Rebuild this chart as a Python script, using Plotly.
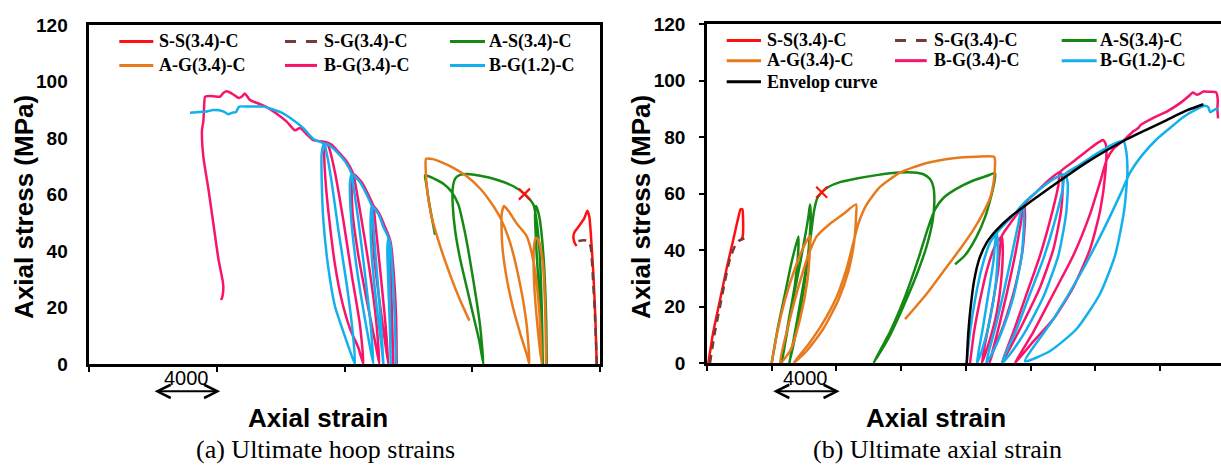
import plotly.graph_objects as go

# ---------------- Panel (a): ultimate hoop strains (x in microstrain, y in MPa) ----------------
a_ss_x = [31796, 31712, 31587, 31462, 31336, 31211, 31002, 30647, 30375, 30334, 30459, 30543]
a_ss_y = [0, 15.9, 31.7, 43.0, 52.0, 54.3, 51.5, 48.6, 46.4, 44.7, 42.4, 41.9]

a_sg_x = [31796, 31692, 31545, 31420, 31274, 30960, 30647]
a_sg_y = [0, 15.9, 31.7, 41.3, 43.6, 43.9, 43.6]

a_as_x = [28662, 28621, 28454, 28203, 27994, 27931, 28036, 28245, 28412, 28349, 28203, 27994, 27827,
          27618, 27262, 26573, 25529, 24484, 23649, 23189, 22918, 22771, 22771, 22918, 23231, 23649,
          24066, 24442, 24693, 24484, 24066, 23544, 23126, 22708, 22186, 21559, 21037, 21100, 21246,
          21455, 21664]
a_as_y = [0, 17.1, 38.5, 52.0, 56.0, 53.2, 38.5, 20.4, 0, 20.4, 40.7, 52.0, 56.5, 58.2, 60.3, 63.0,
          65.3, 66.7, 67.3, 66.9, 65.6, 62.2, 56.5, 47.5, 37.4, 27.2, 17.1, 8.0, 0, 13.7, 29.5, 46.4,
          56.5, 61.0, 63.9, 65.8, 66.9, 64.4, 58.8, 52.0, 45.8]

a_ag_x = [28621, 28558, 28412, 28140, 27994, 27868, 27868, 28078, 28349, 28203, 27868, 27409, 26782,
          26260, 25988, 25842, 25863, 26113, 26531, 27032, 27409, 27576, 27409, 26991, 26364, 25737,
          25111, 24484, 23649, 22813, 21977, 21517, 21100, 21079, 21184, 21455, 21977, 22604, 23231,
          23816]
a_ag_y = [0, 20.4, 36.2, 44.1, 44.7, 41.9, 29.5, 13.7, 0, 18.2, 35.1, 45.3, 49.8, 54.3, 56.0, 53.2,
          43.0, 31.7, 20.4, 10.3, 3.5, 0, 13.7, 28.3, 43.0, 52.0, 57.7, 62.2, 66.5, 69.5, 71.7, 72.6,
          72.7, 69.0, 61.0, 52.0, 41.9, 31.7, 22.7, 15.4]

a_bg34_x = [19262, 19220, 19053, 18886, 18802, 18802, 18886, 19011, 19053, 18969, 18886, 18802,
            18530, 18175, 17799, 17757, 17841, 18175, 18530, 18739, 18530, 18175, 17904, 17799,
            17486, 17068, 16546, 16441, 16504, 16859, 17382, 17904, 18175, 17966, 17486, 16964,
            16650, 16546, 16128, 15606, 15188, 14875, 14728, 14791, 15042, 15397, 15815, 16337,
            16859, 17173, 16964, 16441, 15919, 15397, 15042, 14875, 14039, 13621, 13203, 12890,
            12368, 11741, 11114, 10697, 10070, 9757, 9548, 9339, 9025, 8608, 8399, 8190, 7772,
            7354, 7250, 7187, 7145, 7062, 7145, 7459, 7772, 8086, 8357, 8399, 8336, 8253]
a_bg34_y = [0, 17.1, 34.0, 43.0, 44.7, 40.7, 22.7, 5.8, 0, 15.9, 34.0, 44.7,
            48.6, 53.2, 56.0, 52.0, 38.5, 22.7, 8.0, 0, 15.9, 36.2, 50.9, 56.0,
            60.0, 64.4, 67.3, 64.4, 53.2, 38.5, 22.7, 8.0, 0, 15.9, 36.2, 54.3,
            64.4, 67.3, 71.8, 75.2, 77.7, 78.5, 75.2, 65.6, 50.9, 35.1, 22.7, 12.5,
            5.8, 0, 13.7, 31.7, 50.9, 67.8, 76.3, 78.5, 79.3, 81.4, 83.6, 82.8,
            85.9, 88.7, 91.0, 92.1, 93.5, 95.8, 94.7, 94.3, 95.5, 96.6, 96.0, 94.7, 94.9,
            94.9, 94.7, 90.4, 85.9, 83.0, 73.5, 62.2, 49.8, 37.4, 29.5, 27.2, 23.8, 22.7]

a_bg12_x = [19220, 19157, 19011, 18844, 18739, 18676, 18739, 18844, 18886, 18844, 18781, 18739,
            18426, 18113, 17695, 17632, 17695, 18008, 18322, 18426, 18259, 17966, 17757, 17695,
            17382, 16964, 16441, 16337, 16379, 16650, 17068, 17486, 17799, 17632, 17277, 16859,
            16546, 16441, 16024, 15501, 14979, 14707, 14561, 14561, 14666, 14979, 15397, 15919,
            16337, 16650, 16504, 16128, 15606, 15188, 14875, 14707, 14039, 13412, 12786, 11950,
            10906, 10070, 9400, 9297, 9192, 8920, 8712, 8399, 7772, 7354, 6936, 6310]
a_bg12_y = [0, 13.7, 31.7, 43.0, 44.7, 40.7, 28.3, 11.4, 0, 17.1, 36.2, 44.7,
            48.6, 53.2, 56.0, 52.0, 38.5, 20.4, 5.8, 0, 15.9, 36.2, 52.0, 56.0,
            60.0, 64.4, 67.3, 64.4, 54.3, 38.5, 22.7, 9.2, 0, 13.7, 31.7, 50.9,
            63.3, 67.3, 71.8, 75.2, 77.7, 78.0, 74.6, 65.6, 50.9, 34.0, 20.4, 11.4,
            4.6, 0, 11.4, 28.3, 47.5, 64.4, 74.6, 78.0, 79.7, 83.6, 86.4, 89.3,
            91.2, 91.2, 91.2, 90.4, 89.3, 89.0, 88.5, 89.5, 90.0, 89.5, 89.3, 89.0]

a_rupture_x = [27262]
a_rupture_y = [60.2]

# ---------------- Panel (b): ultimate axial strain ----------------
b_ss_x = [82, 391, 804, 1216, 1628, 1896, 2081, 2184, 2226, 2205, 2123, 2040]
b_ss_y = [0, 11.1, 22.4, 33.6, 43.8, 50.6, 54.5, 54.5, 51.7, 44.9, 43.8, 43.6]

b_sg_x = [185, 494, 804, 1113, 1422, 1731, 1937, 2143, 2308]
b_sg_y = [0, 11.1, 20.1, 29.1, 37.0, 41.5, 43.2, 43.8, 44.3]

b_as_x = [3998, 4410, 4823, 5235, 5647, 5647, 5441, 5029, 4616, 5091, 5544, 5956, 6265, 6368,
          6410, 6286, 5997, 5544, 5091, 5585, 6059, 6410, 6616, 6822, 7090, 7502, 8223, 9254,
          10490, 11933, 12757, 13376, 13788, 13994, 14056, 13953, 13582, 12964, 12139, 11212,
          10284, 11315, 12242, 13067, 13685, 14097, 14613, 15437, 16467, 17292, 17807, 17765,
          17539, 17189, 16673, 15952, 15334]
b_as_y = [0, 13.4, 24.6, 35.9, 44.9, 40.4, 28.0, 14.5, 0, 15.6, 29.1, 41.5, 51.7, 56.2,
          52.8, 40.4, 26.9, 12.2, 0, 15.6, 31.4, 44.9, 53.9, 58.5, 60.5, 62.4, 64.1, 65.4,
          66.6, 67.5, 67.5, 66.9, 65.2, 62.4, 57.3, 50.6, 41.5, 31.4, 20.1, 8.8,
          0, 11.1, 23.5, 37.0, 48.3, 54.5, 58.5, 61.8, 64.7, 66.3, 67.3, 64.1,
          58.5, 51.7, 44.9, 38.2, 35.0]

b_ag_x = [3998, 4348, 4823, 5441, 5997, 6368, 6368, 6203, 5750, 5132, 4513, 5029, 5647, 6265,
          6781, 7605, 8429, 9213, 9213, 9089, 8738, 8120, 7193, 6162, 5338, 6265, 7193, 8017,
          8635, 9048, 9357, 9872, 10696, 11933, 13582, 15231, 16673, 17745, 17807, 17745, 17498,
          17086, 16467, 15643, 14612, 13582, 12757, 12242]
b_ag_y = [0, 11.1, 22.4, 33.6, 41.5, 45.1, 41.5, 29.1, 15.6, 4.3, 0, 13.4, 26.9, 38.2,
          44.9, 49.4, 52.8, 56.2, 51.7, 42.7, 32.5, 22.4, 12.2, 4.3, 0, 6.6, 14.5, 23.5,
          33.6, 42.7, 49.4, 56.2, 62.4, 67.5, 70.9, 72.6, 73.1, 73.1, 71.8, 65.2, 58.5,
          53.4, 47.2, 40.4, 32.5, 24.6, 19.0, 15.6]

b_bg34_x = [16261, 16509, 16879, 17333, 17807, 18219, 18281, 18219, 17910, 17395, 16982, 17333,
            17704, 18013, 18219, 18734, 19250, 19600, 19662, 19518, 19043, 18322, 17704, 17457,
            18013, 18528, 19043, 19394, 19600, 20383, 21105, 21826, 21991, 21887, 21414, 20590,
            19559, 18734, 18219, 18940, 19765, 20590, 21311, 21723, 21826, 22650, 23577, 24196,
            24505, 24670, 24628, 24299, 23680, 22650, 21414, 20177, 19043, 20177, 21414, 22650,
            23680, 24299, 24712, 25124, 25742, 26360, 26669, 26813, 27597, 28421, 29246, 29823,
            30029, 30276, 30482, 30688, 31100, 31471, 31574, 31553, 31594]
b_bg34_y = [0, 11.1, 22.4, 33.6, 41.5, 44.9, 41.5, 31.4, 17.9, 6.6, 0, 11.1,
            22.4, 33.6, 44.9, 49.4, 53.4, 56.2, 51.7, 40.4, 26.9, 13.3, 4.3, 0,
            12.2, 24.6, 38.2, 49.4, 56.2, 60.7, 64.7, 67.7, 64.1, 53.9, 40.4, 26.9,
            14.5, 5.4, 0, 11.1, 24.6, 38.2, 52.8, 63.0, 67.7, 71.4, 75.6, 78.2,
            79.0, 77.1, 67.5, 53.9, 40.4, 26.9, 15.6, 7.7, 0, 11.1, 24.6, 38.2,
            52.8, 64.1, 72.0, 75.9, 78.8, 82.1, 83.3, 84.4, 86.9, 89.1, 92.1, 94.8,
            95.9, 95.1, 95.5, 96.2, 96.1, 95.9, 93.4, 90.0, 86.7]

b_bg12_x = [16055, 16261, 16570, 16982, 17498, 17910, 17972, 17868, 17498, 16982, 16673, 17044,
            17395, 17704, 17910, 18528, 19106, 19518, 19600, 19456, 18940, 18219, 17601, 17251,
            17807, 18322, 18837, 19250, 19518, 20383, 21414, 22135, 22300, 22197, 21723, 20796,
            19662, 18734, 18219, 19147, 19971, 20796, 21517, 21991, 22135, 23062, 24093, 25124,
            25742, 25906, 25989, 25783, 25227, 24299, 22856, 21208, 19662, 21414, 23062, 24505,
            25536, 26154, 26978, 27803, 28627, 29452, 30276, 30791, 30997, 31100, 31306, 31471,
            31615]
b_bg12_y = [0, 11.1, 22.4, 33.6, 42.7, 46.0, 41.5, 29.1, 15.6, 4.3, 0, 12.2,
            24.6, 35.9, 46.0, 50.0, 53.4, 56.2, 51.7, 38.2, 23.5, 11.1, 3.2, 0,
            12.2, 24.6, 38.2, 49.4, 56.2, 60.7, 65.2, 66.9, 63.5, 52.8, 38.2, 23.5,
            11.1, 3.2, 0, 12.2, 24.6, 37.0, 50.6, 61.8, 66.9, 70.3, 74.2, 77.6,
            78.8, 75.4, 67.5, 53.9, 38.2, 24.6, 12.2, 4.3, 0.7, 15.6, 31.4, 47.2,
            59.6, 67.5, 74.2, 79.3, 83.3, 87.2, 90.0, 91.2, 90.6, 88.9, 89.5, 90.0,
            89.7]

b_env_x = [16055, 16158, 16303, 16509, 16837, 17292, 17910, 18734, 19765, 21002, 22238, 23475,
           24712, 25948, 27184, 28421, 29658, 30688]
b_env_y = [0, 11.1, 20.1, 29.1, 37.0, 42.7, 47.2, 51.7, 56.2, 61.3, 66.3, 71.1,
           75.4, 79.3, 82.7, 86.1, 89.5, 91.7]

b_rupture_x = [7090]
b_rupture_y = [60.5]

# ---------------- labels ----------------
series_names = ["S-S(3.4)-C", "S-G(3.4)-C", "A-S(3.4)-C", "A-G(3.4)-C", "B-G(3.4)-C", "B-G(1.2)-C"]
envelope_name = "Envelop curve"
y_ticks = [0, 20, 40, 60, 80, 100, 120]
y_title = "Axial stress (MPa)"
x_title = "Axial strain"
captions = ["(a) Ultimate hoop strains", "(b) Ultimate axial strain"]
scale_label = "4000"
scale_span = [4000, 8200]

# ---------------- styles ----------------
C_RED = "#FF1010"
C_BROWN = "#763A3A"
C_GREEN = "#148A14"
C_ORANGE = "#E87A1E"
C_PINK = "#F8146A"
C_BLUE = "#14B0EE"
C_BLACK = "#000000"
colors = [C_RED, C_BROWN, C_GREEN, C_ORANGE, C_PINK, C_BLUE]
dashes = ["solid", "8px,6px", "solid", "solid", "solid", "solid"]
legend_dashes = ["solid", "11px,10px", "solid", "solid", "solid", "solid"]

W, H = 1221, 475
SANS = "Liberation Sans, Arial, sans-serif"
SERIF = "Liberation Serif, Times New Roman, serif"

fig = go.Figure()


def add_line(x, y, color, xa, ya, dash="solid", smooth=0.6):
    fig.add_trace(go.Scatter(
        x=x, y=y, mode="lines", xaxis=xa, yaxis=ya, showlegend=False, hoverinfo="skip",
        line=dict(color=color, width=2.5, dash=dash, shape="spline", smoothing=smooth)))


panel_a = [(a_ss_x, a_ss_y), (a_sg_x, a_sg_y), (a_as_x, a_as_y), (a_ag_x, a_ag_y),
           (a_bg34_x, a_bg34_y), (a_bg12_x, a_bg12_y)]
panel_b = [(b_ss_x, b_ss_y), (b_sg_x, b_sg_y), (b_as_x, b_as_y), (b_ag_x, b_ag_y),
           (b_bg34_x, b_bg34_y), (b_bg12_x, b_bg12_y)]

for (xs, ys), c, d in zip(panel_a, colors, dashes):
    add_line(xs, ys, c, "x", "y", d)
for (xs, ys), c, d in zip(panel_b, colors, dashes):
    add_line(xs, ys, c, "x2", "y2", d)
add_line(b_env_x, b_env_y, C_BLACK, "x2", "y2", "solid", 0.8)

for xs, ys, xa, ya in [(a_rupture_x, a_rupture_y, "x", "y"), (b_rupture_x, b_rupture_y, "x2", "y2")]:
    fig.add_trace(go.Scatter(x=xs, y=ys, mode="markers", xaxis=xa, yaxis=ya, showlegend=False,
                             hoverinfo="skip",
                             marker=dict(symbol="x-thin", size=11, line=dict(color=C_RED, width=2.2))))


def px_x(p):
    return p / W


def px_y(p):
    return 1 - p / H


axis_common = dict(showgrid=False, zeroline=False, showline=True, linecolor="black", linewidth=2.5,
                   tickcolor="black", tickwidth=2)
ytick_font = dict(family=SANS, size=19, color="black", weight="bold")

fig.update_layout(
    width=W, height=H, margin=dict(l=0, r=0, t=0, b=0),
    paper_bgcolor="white", plot_bgcolor="white", showlegend=False,
    xaxis=dict(domain=[px_x(89.3), px_x(600)], range=[0, 32000], tick0=0, dtick=8000,
               ticks="outside", ticklen=5, showticklabels=False, mirror=True, anchor="y",
               **axis_common),
    yaxis=dict(domain=[px_y(370.5), px_y(16)], range=[0, 120], tickvals=y_ticks, ticks="",
               mirror=True, anchor="x", tickfont=ytick_font, ticklabelstandoff=15, **axis_common),
    yaxis3=dict(overlaying="y", side="right", anchor="x", range=[0, 120], tickvals=y_ticks,
                ticks="inside", ticklen=6, tickwidth=2, tickcolor="black", showticklabels=False,
                showline=False, showgrid=False, zeroline=False),
    xaxis2=dict(domain=[px_x(707), 1.0], range=[0, 31775], tick0=0, dtick=4000,
                ticks="outside", ticklen=5, showticklabels=False, mirror=True, anchor="y2",
                **axis_common),
    yaxis2=dict(domain=[px_y(369.5), px_y(15)], range=[0, 120], tickvals=y_ticks, ticks="outside",
                ticklen=5, mirror=False, anchor="x2", tickfont=ytick_font, ticklabelstandoff=10,
                **axis_common),
)

ann = []
shapes = []

# axis titles and captions
for xc, xtc in [(24, 318), (641, 936)]:
    ann.append(dict(text=y_title, x=px_x(xc), y=px_y(206), xref="paper", yref="paper",
                    showarrow=False, textangle=-90, xanchor="center", yanchor="middle",
                    font=dict(family=SANS, size=26, color="black", weight="bold")))
    ann.append(dict(text=x_title, x=px_x(xtc), y=px_y(427), xref="paper", yref="paper",
                    showarrow=False, xanchor="center", yanchor="middle",
                    font=dict(family=SANS, size=26, color="black", weight="bold")))
for cap, cx in zip(captions, [325, 937]):
    ann.append(dict(text=cap, x=px_x(cx), y=px_y(460), xref="paper", yref="paper",
                    showarrow=False, xanchor="center", yanchor="middle",
                    font=dict(family=SERIF, size=26, color="black")))

# scale bars
for xr in ["x", "x2"]:
    ann.append(dict(text=scale_label, x=sum(scale_span) / 2, y=px_y(385), xref=xr, yref="paper",
                    showarrow=False, xanchor="center", yanchor="middle",
                    font=dict(family=SANS, size=20, color="black")))
    ann.append(dict(text="", x=scale_span[1], y=px_y(399), xref=xr, yref="paper",
                    ax=scale_span[0], ay=0, axref=xr, ayref="pixel", showarrow=True,
                    arrowhead=5, arrowside="end+start", arrowsize=1.3, arrowwidth=2,
                    arrowcolor="black", standoff=0, startstandoff=0))

# manual legends
leg_font = dict(family=SERIF, size=18, color="black", weight="bold")


def legend_entry(x0, x1, tx, yc, color, dash, label):
    shapes.append(dict(type="line", xref="paper", yref="paper", x0=px_x(x0), x1=px_x(x1),
                       y0=px_y(yc), y1=px_y(yc), line=dict(color=color, width=3, dash=dash)))
    ann.append(dict(text=label, x=px_x(tx), y=px_y(yc), xref="paper", yref="paper",
                    showarrow=False, xanchor="left", yanchor="middle", font=leg_font))


a_cols = [(119.3, 153.3, 156.7), (285, 317, 321.7), (450, 485, 487)]
a_rows = [33, 58]
b_cols = [(726.7, 761, 765), (895, 926.7, 931.7), (1061.7, 1096.7, 1098.3)]
b_rows = [32, 53, 75]
for i, (name, c, d) in enumerate(zip(series_names, colors, legend_dashes)):
    r, k = divmod(i, 3)
    x0, x1, tx = a_cols[k]
    legend_entry(x0, x1, tx, a_rows[r], c, d, name)
    x0, x1, tx = b_cols[k]
    legend_entry(x0, x1, tx, b_rows[r], c, d, name)
x0, x1, tx = b_cols[0]
legend_entry(x0, x1, tx, b_rows[2], C_BLACK, "solid", envelope_name)

fig.update_layout(annotations=ann, shapes=shapes)
fig.write_html("out.html", config={"displayModeBar": False},
               post_script="document.body.style.margin='0';document.body.style.overflow='hidden';")
